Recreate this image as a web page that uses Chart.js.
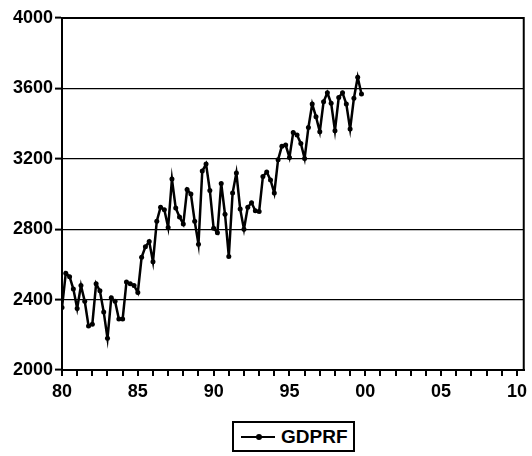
<!DOCTYPE html>
<html>
<head>
<meta charset="utf-8">
<script src="https://cdn.jsdelivr.net/npm/chart.js@4.4.0/dist/chart.umd.min.js"></script>
<style>
    html, body { margin: 0; padding: 0; background: #fff; }
    #wrap { position: relative; width: 532px; height: 456px; }
    #legend {
        position: absolute; left: 232px; top: 421px; width: 119px; height: 27px;
        border: 2px solid #000; background: #fff;
        font: bold 19px "Liberation Sans", Arial, sans-serif; color: #000;
    }
    #legend .line { position: absolute; left: 7px; top: 13px; width: 34px; border-top: 2px solid #000; }
    #legend .dot { position: absolute; left: 22px; top: 11px; width: 6px; height: 6px; border-radius: 50%; background: #000; }
    #legend .txt { position: absolute; left: 47px; top: 3px; line-height: 21px; }
</style>
</head>
<body>
<div id="wrap">
    <canvas id="chart" width="532" height="456"></canvas>
    <div id="legend"><span class="line"></span><span class="dot"></span><span class="txt">GDPRF</span></div>
</div>
<script>
// --- Data ---
const seriesName = 'GDPRF';
const startYear = 1980;
const gdprf = [
    2355, 2550, 2530, 2460,   // 1980
    2350, 2480, 2390, 2250,   // 1981
    2260, 2490, 2450, 2330,   // 1982
    2180, 2410, 2390, 2290,   // 1983
    2290, 2500, 2490, 2480,   // 1984
    2440, 2640, 2700, 2730,   // 1985
    2615, 2845, 2925, 2910,   // 1986
    2810, 3085, 2920, 2870,   // 1987
    2830, 3025, 3000, 2845,   // 1988
    2715, 3130, 3170, 3020,   // 1989
    2805, 2780, 3060, 2885,   // 1990
    2645, 3005, 3120, 2915,   // 1991
    2800, 2925, 2950, 2905,   // 1992
    2900, 3100, 3125, 3080,   // 1993
    3005, 3195, 3272, 3278,   // 1994
    3208, 3350, 3335, 3287,   // 1995
    3202, 3378, 3511, 3439,   // 1996
    3354, 3524, 3575, 3515,   // 1997
    3360, 3548, 3575, 3511,   // 1998
    3369, 3544, 3663, 3568    // 1999
];
const tickYears = [1980, 1985, 1990, 1995, 2000, 2005, 2010];
const tickLabels = ['80', '85', '90', '95', '00', '05', '10'];
const yTicks = [2000, 2400, 2800, 3200, 3600, 4000];

// quarterly positions: 1980Q1 -> 1980.00, 1980Q2 -> 1980.25 ...
const points = gdprf.map((v, i) => ({ x: startYear + i / 4, y: v }));

// one small tick for every year on the axis
const yearTicks = [];
for (let y = 1980; y <= 2010; y++) yearTicks.push(y);

const FONT = '"Liberation Sans", Arial, sans-serif';

// frame round the plot area (top and right edges)
const framePlugin = {
    id: 'frame',
    afterDraw(chart) {
        const { ctx, chartArea: a } = chart;
        ctx.save();
        ctx.strokeStyle = '#000';
        ctx.lineWidth = 2;
        ctx.strokeRect(a.left, a.top, a.right - a.left, a.bottom - a.top);
        ctx.restore();
    }
};

new Chart(document.getElementById('chart'), {
    type: 'line',
    data: {
        datasets: [{
            label: seriesName,
            data: points,
            borderColor: '#000',
            backgroundColor: '#000',
            borderWidth: 2.5,
            pointRadius: 2.5,
            pointBackgroundColor: '#000',
            pointBorderWidth: 0,
            tension: 0
        }]
    },
    options: {
        responsive: false,
        animation: false,
        layout: { padding: { top: 18, right: 5, left: 0, bottom: 0 } },
        plugins: { legend: { display: false }, tooltip: { enabled: false } },
        scales: {
            x: {
                type: 'linear',
                min: 1980,
                max: 2010.45,
                afterBuildTicks: s => { s.ticks = yearTicks.map(v => ({ value: v })); },
                afterFit: s => { s.height = 86; },
                ticks: {
                    autoSkip: false,
                    maxRotation: 0,
                    padding: 5,
                    color: '#000',
                    font: { family: FONT, size: 18, weight: 'bold' },
                    callback: v => {
                        const i = tickYears.indexOf(v);
                        return i >= 0 ? tickLabels[i] : '';
                    }
                },
                grid: {
                    drawOnChartArea: false, drawTicks: true,
                    color: '#000', tickColor: '#000', lineWidth: 2, tickWidth: 2, tickLength: 6
                },
                border: { color: '#000', width: 2 }
            },
            y: {
                min: 2000,
                max: 4000,
                afterBuildTicks: s => { s.ticks = yTicks.map(v => ({ value: v })); },
                afterFit: s => { s.width = 62; },
                ticks: {
                    padding: 2,
                    color: '#000',
                    font: { family: FONT, size: 18, weight: 'bold' },
                    callback: v => String(v)
                },
                grid: { color: '#000', tickColor: '#000', lineWidth: 1.2, tickWidth: 2, tickLength: 7 },
                border: { color: '#000', width: 2 }
            }
        }
    },
    plugins: [framePlugin]
});
</script>
</body>
</html>
